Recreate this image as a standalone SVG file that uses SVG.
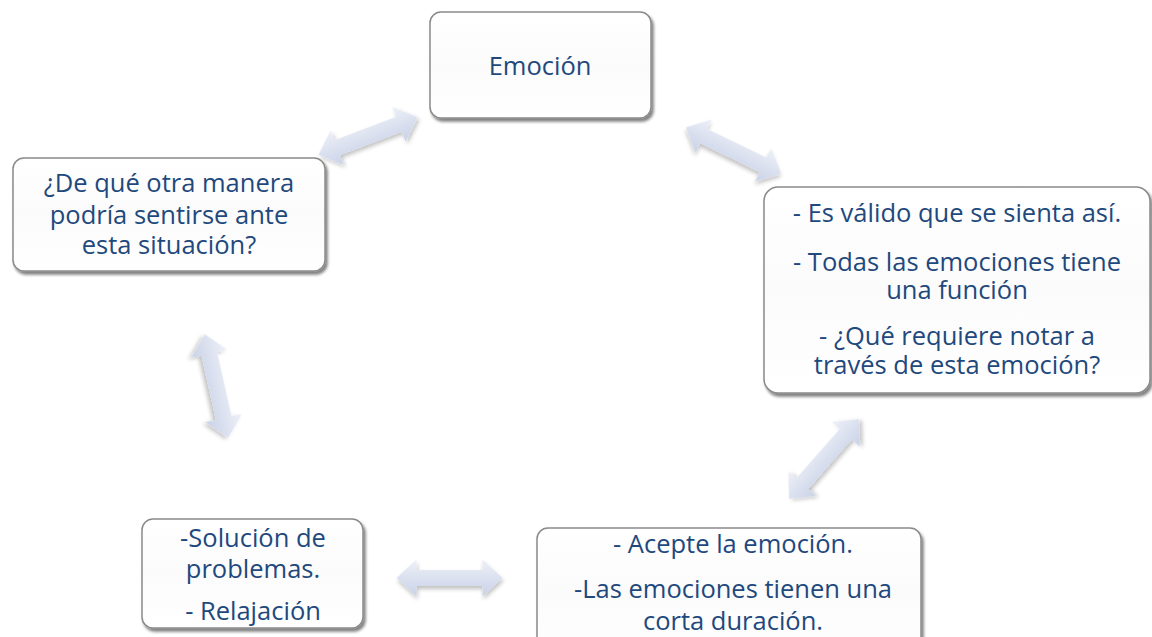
<svg xmlns="http://www.w3.org/2000/svg" width="1152" height="637" viewBox="0 0 1152 637">
<style>
.box{fill:url(#boxg);stroke:#8a8a8a;stroke-width:1.5;filter:url(#bshadow)}
.t{font-family:"Open Sans","Liberation Sans",sans-serif;font-size:25.5px;fill:#1F497D;text-anchor:middle}
.arr{fill:url(#arrg);filter:url(#ashadow)}
</style>
<defs>
<linearGradient id="boxg" x1="0" y1="0" x2="0" y2="1">
<stop offset="0" stop-color="#ffffff"/>
<stop offset="0.5" stop-color="#fbfbfb"/>
<stop offset="1" stop-color="#ffffff"/>
</linearGradient>
<linearGradient id="arrg" x1="0" y1="0" x2="0" y2="1">
<stop offset="0" stop-color="#edf0f8"/>
<stop offset="1" stop-color="#c9d2e7"/>
</linearGradient>
<filter id="bshadow" x="-10%" y="-10%" width="125%" height="130%">
<feGaussianBlur in="SourceAlpha" stdDeviation="1.5"/>
<feOffset dx="2" dy="3" result="b"/>
<feComponentTransfer><feFuncA type="linear" slope="0.5"/></feComponentTransfer>
<feMerge><feMergeNode/><feMergeNode in="SourceGraphic"/></feMerge>
</filter>
<filter id="ashadow" x="-20%" y="-40%" width="140%" height="180%">
<feGaussianBlur in="SourceAlpha" stdDeviation="2"/>
<feOffset dx="1" dy="3" result="b"/>
<feComponentTransfer><feFuncA type="linear" slope="0.25"/></feComponentTransfer>
<feMerge><feMergeNode/><feMergeNode in="SourceGraphic"/></feMerge>
</filter>
<path id="darrow" d="M -53,0 L -33,-18.5 L -33,-8 L 33,-8 L 33,-18.5 L 53,0 L 33,18.5 L 33,8 L -33,8 L -33,18.5 Z"/>
</defs>
<rect width="1152" height="637" fill="#ffffff"/>
<g id="connectors">
<use href="#darrow" class="arr" transform="translate(368,136) rotate(-20.8)"/>
<use href="#darrow" class="arr" transform="translate(733.5,150.5) rotate(25.8)"/>
<use href="#darrow" class="arr" transform="translate(216.5,386) rotate(77.3)"/>
<use href="#darrow" class="arr" transform="translate(824,459) rotate(-48.7)"/>
<use href="#darrow" class="arr" transform="translate(449.5,578)"/>
</g>
<g id="node-emocion">
<rect class="box" x="430" y="12" width="221" height="106" rx="11"/>
<text class="t" x="540" y="75">Emoción</text>
</g>
<g id="node-valido">
<rect class="box" x="764" y="187" width="386" height="206" rx="14"/>
<text class="t" x="957" y="222">- Es válido que se sienta así.</text>
<text class="t" x="957" y="271">- Todas las emociones tiene</text>
<text class="t" x="957" y="299">una función</text>
<text class="t" x="957" y="345">- ¿Qué requiere notar a</text>
<text class="t" x="957" y="374">través de esta emoción?</text>
</g>
<g id="node-otra-manera">
<rect class="box" x="13" y="158" width="312" height="113" rx="11"/>
<text class="t" x="169" y="192">¿De qué otra manera</text>
<text class="t" x="169" y="224">podría sentirse ante</text>
<text class="t" x="169" y="254">esta situación?</text>
</g>
<g id="node-solucion">
<rect class="box" x="142" y="519" width="221" height="109" rx="11"/>
<text class="t" x="253" y="547">-Solución de</text>
<text class="t" x="253" y="578">problemas.</text>
<text class="t" x="253" y="620">- Relajación</text>
</g>
<g id="node-acepte">
<rect class="box" x="537" y="528" width="384" height="130" rx="11"/>
<text class="t" x="733" y="553">- Acepte la emoción.</text>
<text class="t" x="733" y="598">-Las emociones tienen una</text>
<text class="t" x="733" y="630">corta duración.</text>
</g>
</svg>
